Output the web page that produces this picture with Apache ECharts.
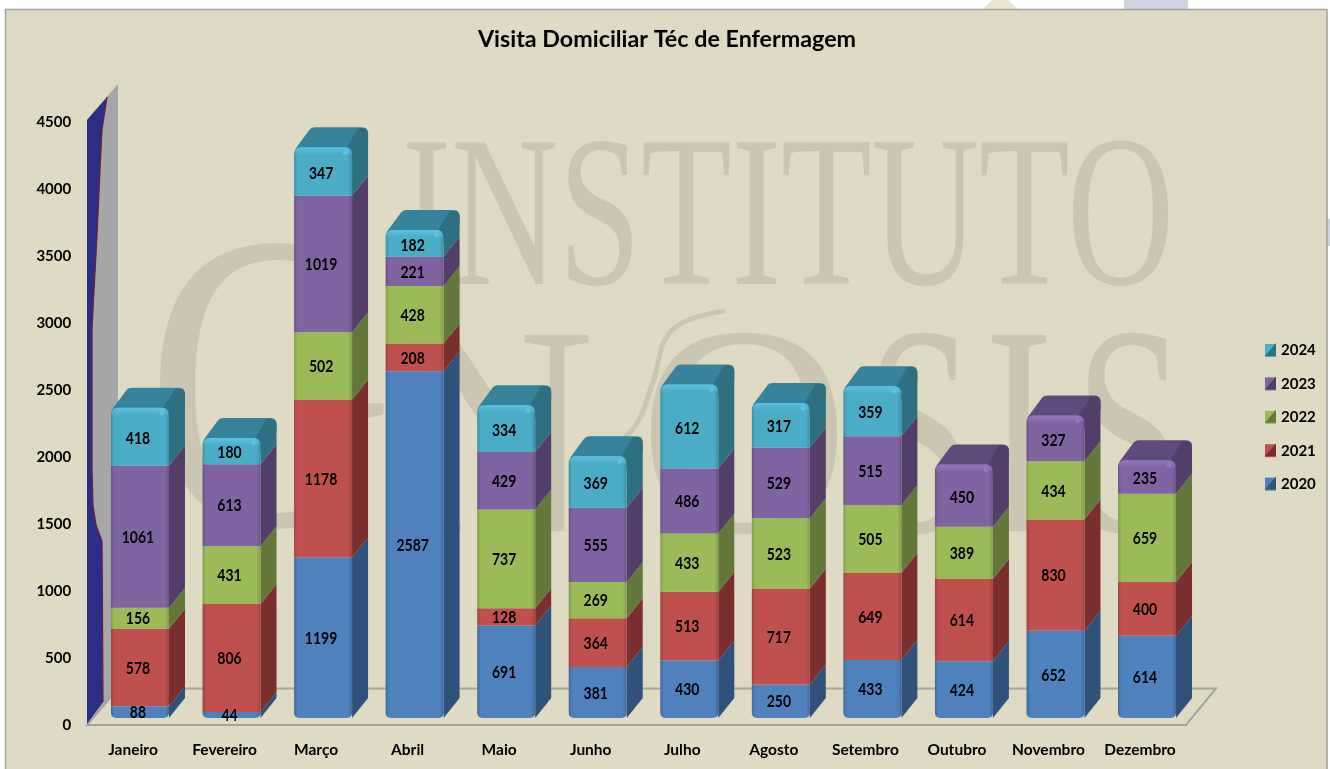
<!DOCTYPE html>
<html><head><meta charset="utf-8">
<style>html,body{margin:0;padding:0;background:#fff;overflow:hidden}#c{width:1330px;height:769px}</style>
<script src="https://cdn.jsdelivr.net/npm/echarts@6/dist/echarts.min.js"></script>
</head><body><div id="c"></div>
<script>
const months = ['Janeiro','Fevereiro','Março','Abril','Maio','Junho','Julho','Agosto','Setembro','Outubro','Novembro','Dezembro'];
const years = ['2020','2021','2022','2023','2024'];
const v2020 = [88,44,1199,2587,691,381,430,250,433,424,652,614];
const v2021 = [578,806,1178,208,128,364,513,717,649,614,830,400];
const v2022 = [156,431,502,428,737,269,433,523,505,389,434,659];
const v2023 = [1061,613,1019,221,429,555,486,529,515,450,327,235];
const v2024 = [418,180,347,182,334,369,612,317,359,null,null,null];
const yearValues = [v2020,v2021,v2022,v2023,v2024];
const yTicks = {min:0,max:4500,interval:500};

const front = ['#4f81bd','#c0504d','#9bbb59','#8064a2','#4bacc6'];
const edge  = ['#41699b','#a04341','#829d4b','#6b5488','#3e90a6'];
const side  = ['#2f527a','#7a2f2e','#63783a','#523e69','#2e6f81'];
const topC  = ['#3a6391','#8f3b39','#738a44','#604a7b','#37839b'];
const hi    = ['#6a9ad4','#d8625f','#b3d468','#9478bc','#5cc3e0'];
const FONT = 'Lato,"Liberation Sans",sans-serif';
const SERIF = '"Liberation Serif",serif';
const DX = 16, DY = -20, FACE = 58;

function seriesData(k){
  return months.map((m,i)=>{
    let base = 0;
    for(let j=0;j<k;j++) base += yearValues[j][i]||0;
    const val = yearValues[k][i];
    if(val==null) return null;
    let isTop = true;
    for(let j=k+1;j<yearValues.length;j++) if(yearValues[j][i]!=null) isTop=false;
    return [i, base, base+val, val, isTop?1:0, k===0?1:0];
  }).filter(Boolean);
}
function makeRender(k){
  return function(params, api){
    const i = api.value(0), a = api.value(1), b = api.value(2), val = api.value(3), isTop = api.value(4), isBot = api.value(5);
    const pa = api.coord([i,a]), pb = api.coord([i,b]);
    const x0 = pa[0]-FACE/2, x1 = pa[0]+FACE/2, yb = pa[1], yt = pb[1] - (isTop?2:0);
    const kids = [];
    const notch = isTop ? 7 : 0;
    kids.push({type:'polygon',shape:{points:[[x1,yt],[x1+DX,yt+DY+notch],[x1+DX,yb+DY],[x1,yb]]},style:{fill:side[k]}});
    if(isTop){
      const x2=x0+DX, x3=x1+DX, ty=yt+DY, r=6;
      kids.push({type:'path',shape:{pathData:
        `M ${x0+1} ${yt+2} L ${x2-1} ${ty+3} Q ${x2+1} ${ty} ${x2+5} ${ty} L ${x3-r} ${ty} Q ${x3} ${ty} ${x3} ${ty+r} L ${x1+1} ${yt+8} L ${x1-4} ${yt+2} Z`},
        style:{fill:topC[k]}});
      kids.push({type:'path',shape:{pathData:
        `M ${x1-6} ${yt+1} L ${x3-10} ${ty+1} Q ${x3} ${ty} ${x3} ${ty+r} L ${x3} ${ty+r+8} L ${x1} ${yt+14} Z`},style:{fill:side[k]}});
    }
    kids.push({type:'rect',shape:{x:x0,y:yt,width:FACE,height:yb-yt,r:[isTop?6:0,isTop?6:0,isBot?5:0,isBot?5:0]},
      style:{fill:new echarts.graphic.LinearGradient(0,0,1,0,[
        {offset:0,color:edge[k]},{offset:0.06,color:front[k]},{offset:0.93,color:front[k]},{offset:1,color:edge[k]}])}});
    if(isTop){
      kids.push({type:'rect',shape:{x:x0+1,y:yt,width:FACE-2,height:7,r:[6,6,0,0]},
        style:{fill:new echarts.graphic.LinearGradient(0,0,0,1,[{offset:0,color:hi[k]},{offset:1,color:front[k]}])}});
      kids.push({type:'circle',shape:{cx:x1-7,cy:yt+5,r:2.5},style:{fill:hi[k]}});
    }
    kids.push({type:'text',x:pa[0]-2,y:(yb+pb[1])/2+1,scaleX:1,scaleY:1.15,style:{text:String(val),fill:'#000',font:'bold 14px '+FONT,align:'center',verticalAlign:'middle'},z2:5});
    return {type:'group',children:kids};
  };
}
const letterFill = '#cac6b1';
function letter(t,cx,base,size,sx){
  return {type:'text',x:cx,y:base-0.775*size,scaleX:sx,z:0,silent:true,
    style:{text:t,fill:letterFill,font:size+'px '+SERIF,align:'center',verticalAlign:'top'}};
}
const bevel = [0,1,2,3,4].map(j=>{
  const x=1265,y=343+33.4*j,w=11,h=13,c=side[4-j];
  return {type:'polygon',z:20,silent:true,shape:{points:[[x+w,y],[x+w,y+h],[x,y+h],[x+w/2,y+h/2]]},style:{fill:c}};
});
const chart = echarts.init(document.getElementById('c'),null,{renderer:'canvas'});
chart.setOption({
  animation:false,
  backgroundColor:'#ffffff',
  title:{text:'Visita Domiciliar Téc de Enfermagem',left:662,top:23,textAlign:'center',
    textStyle:{fontFamily:FONT,fontWeight:'bold',fontSize:23.3,color:'#000'}},
  grid:{left:94.2,right:137.2,top:115,bottom:51},
  legend:{data:years.slice().reverse(),orient:'vertical',left:1265,top:343,padding:0,itemWidth:11,itemHeight:13,itemGap:18.4,z:1,
    icon:'rect',selectedMode:false,textStyle:{fontFamily:FONT,fontWeight:'bold',fontSize:15,color:'#000',height:14,lineHeight:14}},
  xAxis:{type:'category',data:months,axisLine:{show:false},axisTick:{show:false},
    axisLabel:{interval:0,margin:24,padding:[0,14,0,0],color:'#000',fontFamily:FONT,fontWeight:'bold',fontSize:15.5}},
  yAxis:{type:'value',min:yTicks.min,max:yTicks.max,interval:yTicks.interval,splitLine:{show:false},axisLine:{show:false},axisTick:{show:false},
    axisLabel:{margin:23,verticalAlign:'top',formatter:v=>String(v),color:'#000',fontFamily:FONT,fontWeight:'bold',fontSize:15}},
  graphic:{elements:[
    {type:'polygon',z:0,silent:true,shape:{points:[[983,9],[992,0],[1008,0],[1018,9]]},style:{fill:'#ece4d3'}},
    {type:'rect',z:0,silent:true,shape:{x:1124,y:0,width:64,height:9},style:{fill:'#cdd3e0'}},
    {type:'rect',z:0,silent:true,shape:{x:1327,y:219,width:3,height:27},style:{fill:'#ccd2df'}},
    {type:'rect',z:0,silent:true,shape:{x:5.5,y:9.5,width:1321.5,height:770},style:{fill:'#dedac3',stroke:'#a3a39b',lineWidth:1.5}},
    {type:'text',x:788,y:287-0.775*217,scaleX:0.684,z:0,silent:true,style:{text:'INSTITUTO',fill:letterFill,font:'217px '+SERIF,align:'center',verticalAlign:'top'}},
    letter('G',270,530,425,0.81),
    letter('N',492,535,300,0.95),
    letter('O',744,535,300,0.97),
    letter('S',920,535,300,0.65),
    letter('I',1019,535,300,0.69),
    letter('S',1130,535,300,0.66),
    {type:'polyline',z:0,silent:true,shape:{smooth:0.4,points:[[725,311],[672,330],[652,385],[636,425],[608,455],[612,470],[622,482]]},style:{fill:'none',stroke:letterFill,lineWidth:5}},
    {type:'polygon',z:0,silent:true,shape:{points:[[87,725],[1186,725],[1216,688.5],[118,688.5]]},style:{fill:'#dedac3',stroke:'#a5a59c',lineWidth:2}},
    {type:'polygon',z:0,silent:true,shape:{points:[[87,120],[118,84],[118,688],[87,724]]},style:{fill:'#a6a6a6'}},
    {type:'polygon',z:0,silent:true,shape:{points:[[87,120],[107,97],[102,130],[100,170],[98,215],[96,255],[94,290],[92,330],[92,400],[92,470],[93,505],[96,525],[102,541],[103,702],[87,724]]},style:{fill:'#2b2e86'}},
    {type:'polyline',z:0,silent:true,shape:{points:[[107,97],[102,130],[100,170],[98,215],[96,255],[94,290],[92,330],[92,400],[92,470],[93,505],[96,525],[102,541],[103,702]]},style:{fill:'none',stroke:'#6f1b3c',lineWidth:1.2}},
    ...bevel
  ]},
  series: years.map((y,k)=>({
    name:y,type:'custom',z:3,coordinateSystem:'cartesian2d',
    itemStyle:{color:front[k]},
    encode:{x:0,y:[1,2]},
    data:seriesData(k),
    renderItem:makeRender(k),
    silent:true
  }))
});
</script></body></html>
